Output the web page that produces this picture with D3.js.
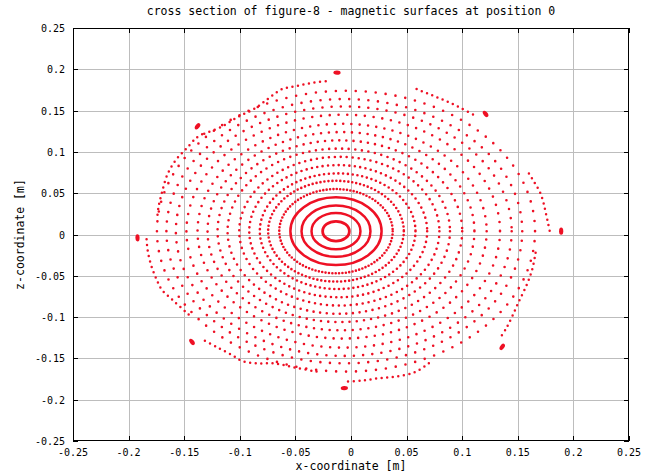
<!DOCTYPE html>
<html><head><meta charset="utf-8">
<script src="https://cdn.jsdelivr.net/npm/d3@7/dist/d3.min.js"></script>
<style>
body{margin:0;background:#fff}
svg{display:block}
text{font-family:"DejaVu Sans Mono",monospace;fill:#000}
</style>
</head><body>
<svg id="chart" width="646" height="474"></svg>
<script>
// ---------- data ----------
const titleText = "cross section of figure-8 - magnetic surfaces at position 0";
const xLabel = "x-coordinate [m]";
const zLabel = "z-coordinate [m]";
const xTicks = [-0.25,-0.2,-0.15,-0.1,-0.05,0,0.05,0.1,0.15,0.2,0.25];
const zTicks = [-0.25,-0.2,-0.15,-0.1,-0.05,0,0.05,0.1,0.15,0.2,0.25];

// magnetic axis position (m)
const axisX = -0.0135;
const axisZ = 0.004;

// closed nested surfaces: mean minor radius (m) and horizontal shift of their centre (m)
const surfRadius = [0.012,0.022,0.031,0.041,0.051,0.061,0.070,0.080,0.090,0.100,0.110,0.120,0.130,0.141,0.151,0.160,0.170];
const surfShift  = [0,0,0,0,0,0,0.0015,0.002,0.003,0.0025,0.0035,0.0045,0.0055,0.0065,0.007,0.0075,0.009];

// outermost (8-fold island chain) traces, between consecutive X-points: [x, z] in m
const arcUpperLeftTop = [[-0.132,0.122],[-0.117,0.130],[-0.102,0.142],[-0.086,0.153],[-0.074,0.165],[-0.062,0.176],[-0.048,0.180],[-0.033,0.184],[-0.018,0.186]];
const arcTopUpperRight = [[0.059,0.176],[0.072,0.169],[0.085,0.162],[0.099,0.153],[0.113,0.143]];
const arcUpperRightRight = [[0.160,0.074],[0.165,0.063],[0.170,0.051],[0.173,0.039],[0.175,0.027],[0.177,0.015],[0.179,0.002]];
const arcRightLowerRight = [[0.166,-0.022],[0.163,-0.042],[0.158,-0.061],[0.151,-0.081],[0.145,-0.099],[0.139,-0.115],[0.133,-0.127]];
const arcLowerRightBottom = [[0.070,-0.156],[0.057,-0.167],[0.040,-0.172],[0.025,-0.174],[0.009,-0.177],[-0.006,-0.178]];
const arcBottomLowerLeft = [[-0.031,-0.166],[-0.051,-0.161],[-0.069,-0.156],[-0.085,-0.156],[-0.098,-0.153],[-0.107,-0.146],[-0.121,-0.136],[-0.135,-0.126]];
const arcLowerLeftLeft = [[-0.146,-0.097],[-0.159,-0.081],[-0.170,-0.067],[-0.175,-0.054],[-0.180,-0.036],[-0.183,-0.018],[-0.184,-0.002]];
const arcLeftUpperLeft = [[-0.174,0.024],[-0.173,0.034],[-0.170,0.051],[-0.165,0.073],[-0.157,0.091],[-0.148,0.104],[-0.139,0.117],[-0.133,0.122]];
const outerArcs = [arcUpperLeftTop,arcTopUpperRight,arcUpperRightRight,arcRightLowerRight,arcLowerRightBottom,arcBottomLowerLeft,arcLowerLeftLeft,arcLeftUpperLeft];

// X-point clusters of the island chain [x, z] in m
const xPoints = [[-0.0126,0.196],[0.121,0.146],[0.189,0.004],[0.136,-0.136],[-0.006,-0.186],[-0.143,-0.130],[-0.192,-0.004],[-0.138,0.131]];

// ---------- layout / style ----------
const W = 646, H = 474;
const m = {left:73, right:17, top:28, bottom:33};
const dotColor = "#ee1024";
const dotGap = [0,0,0,0,3.4,4.0,4.8,5.4,6.0,6.6,7.2,7.8,8.3,8.8,9.2,9.6,10.0];

const svg = d3.select("#chart");
const x = d3.scaleLinear().domain([-0.25,0.25]).range([m.left, W-m.right]);
const y = d3.scaleLinear().domain([-0.25,0.25]).range([H-m.bottom, m.top]);

// grid
const grid = svg.append("g").attr("stroke","#bdbdbd").attr("stroke-width",1);
grid.selectAll("line.v").data(xTicks.slice(1,-1)).join("line")
  .attr("x1",d=>Math.round(x(d))+0.5).attr("x2",d=>Math.round(x(d))+0.5)
  .attr("y1",y(0.25)).attr("y2",y(-0.25));
grid.selectAll("line.h").data(zTicks.slice(1,-1)).join("line")
  .attr("y1",d=>Math.round(y(d))+0.5).attr("y2",d=>Math.round(y(d))+0.5)
  .attr("x1",x(-0.25)).attr("x2",x(0.25));

// surfaces
const surf = svg.append("g");
surfRadius.forEach((r,i)=>{
  const cx = axisX + surfShift[i];
  const e = surf.append("ellipse")
    .attr("cx",x(cx)).attr("cy",y(axisZ))
    .attr("rx",x(cx+r)-x(cx)).attr("ry",y(axisZ)-y(axisZ+r))
    .attr("fill","none").attr("stroke",dotColor);
  if (dotGap[i]===0) {
    e.attr("stroke-width", i===0?2.8:2.5);
  } else {
    e.attr("stroke-width",2.6).attr("stroke-linecap","round")
     .attr("stroke-dasharray",`0 ${dotGap[i]}`);
  }
});

const line = d3.line().x(d=>x(d[0])).y(d=>y(d[1])).curve(d3.curveCatmullRom);
surf.selectAll("path.arc").data(outerArcs).join("path")
  .attr("d",line).attr("fill","none").attr("stroke",dotColor)
  .attr("stroke-width",2.5).attr("stroke-linecap","round")
  .attr("stroke-dasharray","0 5.6");

surf.selectAll("ellipse.xp").data(xPoints).join("ellipse")
  .attr("cx",0).attr("cy",0).attr("rx",3.6).attr("ry",2.1)
  .attr("fill",dotColor)
  .attr("transform",d=>{
    const px=x(d[0]), py=y(d[1]);
    const ang = Math.atan2(py-y(axisZ), px-x(axisX))*180/Math.PI + 90;
    return `translate(${px},${py}) rotate(${ang})`;
  });

// frame + ticks
const fr = svg.append("g").attr("stroke","#000").attr("stroke-width",1).attr("fill","none");
fr.append("rect").attr("x",x(-0.25)+0.5).attr("y",y(0.25)+0.5)
  .attr("width",x(0.25)-x(-0.25)-1).attr("height",y(-0.25)-y(0.25)-1);
const tl = 5;
xTicks.forEach(t=>{
  const px = Math.round(x(t))+0.5;
  fr.append("line").attr("x1",px).attr("x2",px).attr("y1",y(0.25)).attr("y2",y(0.25)+tl);
  fr.append("line").attr("x1",px).attr("x2",px).attr("y1",y(-0.25)).attr("y2",y(-0.25)-tl);
});
zTicks.forEach(t=>{
  const py = Math.round(y(t))+0.5;
  fr.append("line").attr("y1",py).attr("y2",py).attr("x1",x(-0.25)).attr("x2",x(-0.25)+tl);
  fr.append("line").attr("y1",py).attr("y2",py).attr("x1",x(0.25)).attr("x2",x(0.25)-tl);
});

// tick labels
const fmt = d=> d===0 ? "0" : String(d);
svg.append("g").selectAll("text").data(xTicks).join("text")
  .attr("x",d=>x(d)).attr("y",y(-0.25)+15).attr("text-anchor","middle")
  .attr("font-size",10).text(fmt);
svg.append("g").selectAll("text").data(zTicks).join("text")
  .attr("x",x(-0.25)-8).attr("y",d=>y(d)+4).attr("text-anchor","end")
  .attr("font-size",10).text(fmt);

// titles
svg.append("text").attr("x",(x(-0.25)+x(0.25))/2).attr("y",15).attr("text-anchor","middle")
  .attr("font-size",11.5).text(titleText);
svg.append("text").attr("x",(x(-0.25)+x(0.25))/2).attr("y",470).attr("text-anchor","middle")
  .attr("font-size",11.5).text(xLabel);
svg.append("text").attr("transform",`translate(24,${(y(0.25)+y(-0.25))/2}) rotate(-90)`)
  .attr("text-anchor","middle").attr("font-size",11.5).text(zLabel);
</script>
</body></html>
